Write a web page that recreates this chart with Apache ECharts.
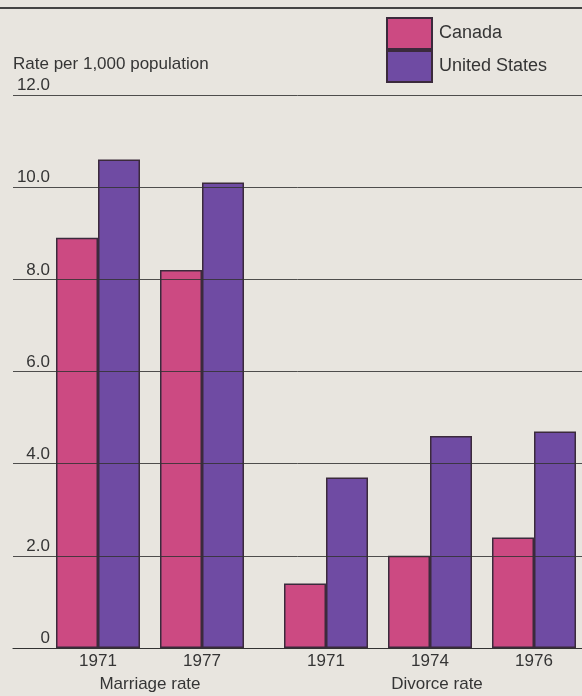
<!DOCTYPE html>
<html>
<head>
<meta charset="utf-8">
<script src="https://cdn.jsdelivr.net/npm/echarts@6/dist/echarts.min.js"></script>
<style>
  html, body { margin: 0; padding: 0; background: #e8e5df; }
  #chart { width: 582px; height: 696px; }
</style>
</head>
<body>
<div id="chart"></div>
<script>
// data
const marriageYears = ["1971", "1977"];
const divorceYears = ["1971", "1974", "1976"];
const canadaMarriage = [8.9, 8.2];
const usMarriage = [10.6, 10.1];
const canadaDivorce = [1.4, 2.0, 2.4];
const usDivorce = [3.7, 4.6, 4.7];
const yTicks = [0, 2, 4, 6, 8, 10, 12];

const CANADA = "#cc4a82";
const US = "#6f4ba3";
const EDGE = "#3b2a3c";
const FONT = "Liberation Sans";
const TXT = "#353535";
const FS = 17;

const chart = echarts.init(document.getElementById("chart"));

// hidden y axis shared by the bar grids
function barY(idx) {
  return { gridIndex: idx, type: "value", min: 0, max: 12, interval: 2, show: false };
}
function barX(idx, cats, name, shift) {
  return {
    gridIndex: idx,
    type: "category",
    data: cats,
    name: name,
    nameLocation: "middle",
    nameGap: 28,
    nameTextStyle: { fontFamily: FONT, fontSize: FS, color: TXT, padding: [0, 0, 0, shift] },
    axisLine: { show: false },
    axisTick: { show: false },
    axisLabel: { margin: 5, fontFamily: FONT, fontSize: FS, color: TXT }
  };
}
function bar(name, color, idx, data) {
  return {
    name: name,
    type: "bar",
    xAxisIndex: idx,
    yAxisIndex: idx,
    data: data,
    barWidth: 42,
    barGap: "0%",
    itemStyle: { color: color, borderColor: EDGE, borderWidth: 1.5 }
  };
}

chart.setOption({
  backgroundColor: "#e8e5df",
  animation: false,
  graphic: [{
    type: "line",
    shape: { x1: 0, y1: 8, x2: 582, y2: 8 },
    style: { stroke: "#444", lineWidth: 2 }
  }],
  legend: {
    orient: "vertical",
    left: 386,
    top: 17,
    padding: 0,
    itemWidth: 45,
    itemHeight: 31,
    itemGap: 0,
    icon: "rect",
    textStyle: { fontFamily: FONT, fontSize: 18, color: TXT, padding: [0, 0, 0, 2] },
    data: ["Canada", "United States"]
  },
  grid: [
    { left: 13, right: 0, top: 95, bottom: 48, outerBoundsMode: "none" },
    { left: 46, width: 208, top: 95, bottom: 48, outerBoundsMode: "none" },
    { left: 274, width: 312, top: 95, bottom: 48, outerBoundsMode: "none" }
  ],
  xAxis: [
    {
      gridIndex: 0, type: "value", min: 0, max: 1, show: true,
      axisLine: { show: true, onZero: false, lineStyle: { color: "#333", width: 1.2 } },
      axisTick: { show: false }, axisLabel: { show: false }, splitLine: { show: false }
    },
    barX(1, marriageYears, "Marriage rate", 0),
    barX(2, divorceYears, "Divorce rate", 14)
  ],
  yAxis: [
    {
      gridIndex: 0, type: "value", min: yTicks[0], max: yTicks[yTicks.length - 1], interval: 2,
      z: 3,
      name: "Rate per 1,000 population",
      nameLocation: "end",
      nameGap: 31,
      nameTextStyle: { fontFamily: FONT, fontSize: FS, color: TXT, align: "left", verticalAlign: "middle" },
      axisLine: { show: false },
      axisTick: { show: false },
      splitLine: { show: true, lineStyle: { color: "rgba(50,50,50,0.85)", width: 1 } },
      axisLabel: {
        inside: true, margin: 37, align: "right", verticalAlign: "bottom",
        padding: [0, 0, 1, 0],
        fontFamily: FONT, fontSize: FS, color: TXT,
        formatter: v => (v === 0 ? "0" : v.toFixed(1))
      }
    },
    barY(1),
    barY(2)
  ],
  series: [
    bar("Canada", CANADA, 1, canadaMarriage),
    bar("United States", US, 1, usMarriage),
    bar("Canada", CANADA, 2, canadaDivorce),
    bar("United States", US, 2, usDivorce)
  ]
});
</script>
</body>
</html>
